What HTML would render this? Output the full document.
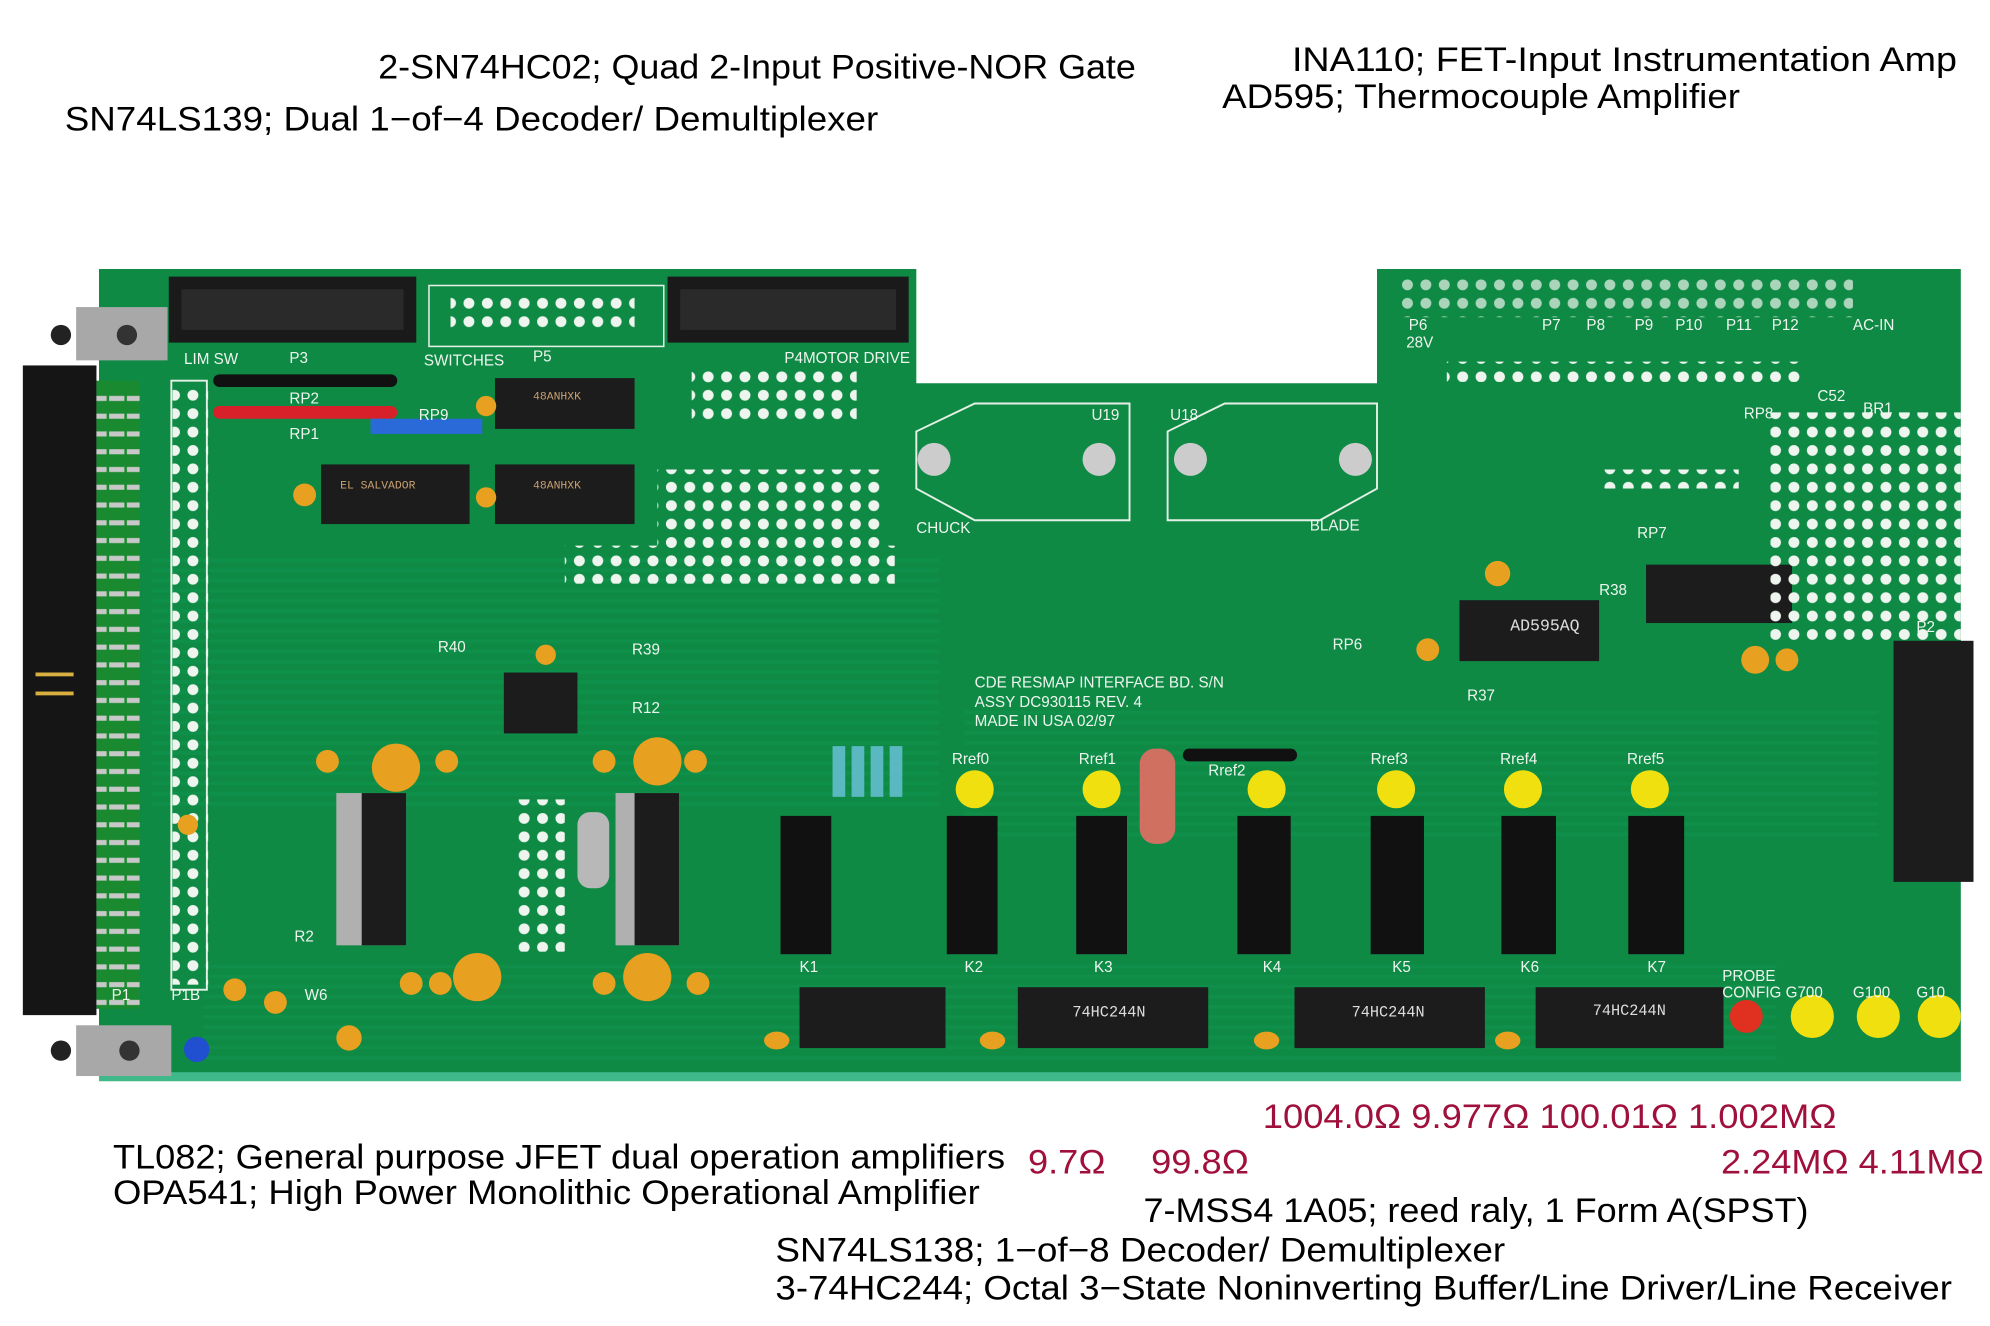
<!DOCTYPE html>
<html><head><meta charset="utf-8"><style>
html,body{margin:0;padding:0;background:#fff;}
svg{display:block;}
</style></head><body>
<svg width="1990" height="1326" viewBox="0 0 1568 1045" preserveAspectRatio="none" xmlns="http://www.w3.org/2000/svg">
<defs>
<pattern id="holes" width="14.5" height="14.5" patternUnits="userSpaceOnUse"><circle cx="7" cy="7" r="4.3" fill="#eef5ee"/></pattern>
<pattern id="pins" width="14" height="14" patternUnits="userSpaceOnUse"><rect x="2" y="4" width="22" height="4" fill="#c8c8c8"/></pattern>
<pattern id="trace" width="8" height="8" patternUnits="userSpaceOnUse"><rect width="8" height="3" fill="#13a058" opacity=".55"/></pattern>
</defs>
<rect width="1568" height="1045" fill="#fff"/>
<!-- board -->
<polygon points="78,212 722,212 722,302 1085,302 1085,212 1545,212 1545,852 78,852" fill="#0e8a45"/>
<rect x="120" y="440" width="620" height="200" fill="url(#trace)" opacity=".5"/>
<rect x="760" y="560" width="720" height="100" fill="url(#trace)" opacity=".4"/>
<rect x="160" y="760" width="1240" height="80" fill="url(#trace)" opacity=".4"/>
<rect x="78" y="845" width="1467" height="7" fill="#3fb88a"/>
<!-- left connector -->
<rect x="18" y="288" width="58" height="512" fill="#151515"/>
<rect x="76" y="300" width="34" height="495" fill="#1a8a30"/>
<rect x="76" y="306" width="34" height="490" fill="url(#pins)"/>
<rect x="28" y="530" width="30" height="3" fill="#d8b040"/><rect x="28" y="545" width="30" height="3" fill="#d8b040"/>
<rect x="135" y="300" width="28" height="480" fill="none" stroke="#e6f0e6" stroke-width="1.5"/>
<rect x="136" y="306" width="28" height="470" fill="url(#holes)"/>
<!-- brackets -->
<rect x="60" y="242" width="72" height="42" fill="#a8a8a8"/><circle cx="48" cy="264" r="8" fill="#222"/><circle cx="100" cy="264" r="8" fill="#333"/>
<rect x="60" y="808" width="75" height="40" fill="#a8a8a8"/><circle cx="48" cy="828" r="8" fill="#222"/><circle cx="102" cy="828" r="8" fill="#333"/>
<!-- top headers -->
<rect x="133" y="218" width="195" height="52" fill="#1a1a1a"/><rect x="143" y="228" width="175" height="32" fill="#2a2a2a"/>
<rect x="526" y="218" width="190" height="52" fill="#1a1a1a"/><rect x="536" y="228" width="170" height="32" fill="#2a2a2a"/>
<rect x="338" y="225" width="185" height="48" fill="none" stroke="#e6f0e6" stroke-width="1.2"/>
<rect x="355" y="232" width="145" height="29" fill="url(#holes)"/>
<!-- resistor packs -->
<rect x="168" y="295" width="145" height="10" rx="5" fill="#111"/>
<rect x="168" y="320" width="145" height="10" rx="5" fill="#d8202a"/>
<rect x="292" y="330" width="88" height="12" fill="#2a6ad8"/>
<!-- chips -->
<g fill="#1c1c1c">
<rect x="390" y="298" width="110" height="40"/><rect x="253" y="366" width="117" height="47"/><rect x="390" y="366" width="110" height="47"/>
<rect x="397" y="530" width="58" height="48"/><rect x="1150" y="473" width="110" height="48"/><rect x="1297" y="445" width="115" height="46"/>
<rect x="630" y="778" width="115" height="48"/><rect x="802" y="778" width="150" height="48"/><rect x="1020" y="778" width="150" height="48"/><rect x="1210" y="778" width="148" height="48"/>
<rect x="1492" y="505" width="63" height="190"/>
</g>
<!-- dot grids -->
<rect x="518" y="370" width="180" height="88" fill="url(#holes)"/>
<rect x="445" y="430" width="260" height="30" fill="url(#holes)"/>
<rect x="545" y="292" width="130" height="40" fill="url(#holes)"/>
<rect x="1395" y="325" width="150" height="180" fill="url(#holes)"/>
<rect x="1260" y="370" width="110" height="15" fill="url(#holes)"/>
<rect x="1100" y="220" width="360" height="30" fill="url(#holes)" opacity=".7"/>
<rect x="1140" y="285" width="280" height="16" fill="url(#holes)"/>
<rect x="405" y="630" width="40" height="120" fill="url(#holes)"/>
<!-- heatsink outlines U19/U18 -->
<polygon points="722,340 768,318 890,318 890,410 768,410 722,385" fill="none" stroke="#e6f0e6" stroke-width="1.5"/>
<polygon points="920,340 965,318 1085,318 1085,385 1040,410 920,410" fill="none" stroke="#e6f0e6" stroke-width="1.5"/>
<circle cx="736" cy="362" r="13" fill="#ccc"/><circle cx="866" cy="362" r="13" fill="#ccc"/><circle cx="938" cy="362" r="13" fill="#ccc"/><circle cx="1068" cy="362" r="13" fill="#ccc"/>
<!-- OPA541 -->
<rect x="265" y="625" width="55" height="120" fill="#b0b0b0"/><rect x="285" y="625" width="35" height="120" fill="#1c1c1c"/>
<rect x="485" y="625" width="50" height="120" fill="#b0b0b0"/><rect x="500" y="625" width="35" height="120" fill="#1c1c1c"/>
<rect x="455" y="640" width="25" height="60" rx="10" fill="#b8b8b8"/>
<!-- relays -->
<g fill="#111">
<rect x="615" y="643" width="40" height="109"/><rect x="746" y="643" width="40" height="109"/><rect x="848" y="643" width="40" height="109"/>
<rect x="975" y="643" width="42" height="109"/><rect x="1080" y="643" width="42" height="109"/><rect x="1183" y="643" width="43" height="109"/><rect x="1283" y="643" width="44" height="109"/>
</g>
<rect x="898" y="590" width="28" height="75" rx="12" fill="#d07060"/>
<rect x="932" y="590" width="90" height="10" rx="5" fill="#111"/>
<g fill="#5ab8c0"><rect x="656" y="588" width="10" height="40"/><rect x="671" y="588" width="10" height="40"/><rect x="686" y="588" width="10" height="40"/><rect x="701" y="588" width="10" height="40"/></g>
<!-- LEDs -->
<g fill="#f0e010">
<circle cx="768" cy="622" r="15"/><circle cx="868" cy="622" r="15"/><circle cx="998" cy="622" r="15"/><circle cx="1100" cy="622" r="15"/><circle cx="1200" cy="622" r="15"/><circle cx="1300" cy="622" r="15"/>
<circle cx="1428" cy="801" r="17"/><circle cx="1480" cy="801" r="17"/><circle cx="1528" cy="801" r="17"/>
</g>
<circle cx="1376" cy="801" r="13" fill="#e03020"/>
<circle cx="155" cy="827" r="10" fill="#2050d0"/>
<!-- capacitors -->
<g fill="#e8a020">
<circle cx="312" cy="605" r="19"/><circle cx="518" cy="600" r="19"/><circle cx="376" cy="770" r="19"/><circle cx="510" cy="770" r="19"/>
<circle cx="258" cy="600" r="9"/><circle cx="352" cy="600" r="9"/><circle cx="476" cy="600" r="9"/><circle cx="548" cy="600" r="9"/>
<circle cx="324" cy="775" r="9"/><circle cx="347" cy="775" r="9"/><circle cx="476" cy="775" r="9"/><circle cx="550" cy="775" r="9"/>
<circle cx="185" cy="780" r="9"/><circle cx="217" cy="790" r="9"/><circle cx="275" cy="818" r="10"/><circle cx="1180" cy="452" r="10"/>
<circle cx="1383" cy="520" r="11"/><circle cx="1408" cy="520" r="9"/><circle cx="1125" cy="512" r="9"/><circle cx="148" cy="650" r="8"/>
<circle cx="240" cy="390" r="9"/><circle cx="383" cy="320" r="8"/><circle cx="383" cy="392" r="8"/><circle cx="430" cy="516" r="8"/>
<ellipse cx="612" cy="820" rx="10" ry="7"/><ellipse cx="782" cy="820" rx="10" ry="7"/><ellipse cx="998" cy="820" rx="10" ry="7"/><ellipse cx="1188" cy="820" rx="10" ry="7"/>
</g>
<!-- silk text -->
<g fill="#eef5ee" font-family="Liberation Sans, sans-serif" font-size="12">
<text x="145" y="287">LIM SW</text><text x="228" y="286">P3</text><text x="334" y="288">SWITCHES</text><text x="420" y="285">P5</text><text x="618" y="286">P4MOTOR DRIVE</text>
<text x="228" y="318">RP2</text><text x="228" y="346">RP1</text><text x="330" y="331">RP9</text>
<text x="860" y="331">U19</text><text x="922" y="331">U18</text><text x="722" y="420">CHUCK</text><text x="1032" y="418">BLADE</text>
<text x="768" y="542">CDE RESMAP INTERFACE BD. S/N</text><text x="768" y="557">ASSY DC930115 REV. 4</text><text x="768" y="572">MADE IN USA 02/97</text>
<text x="750" y="602">Rref0</text><text x="850" y="602">Rref1</text><text x="952" y="611">Rref2</text><text x="1080" y="602">Rref3</text><text x="1182" y="602">Rref4</text><text x="1282" y="602">Rref5</text>
<text x="630" y="766">K1</text><text x="760" y="766">K2</text><text x="862" y="766">K3</text><text x="995" y="766">K4</text><text x="1097" y="766">K5</text><text x="1198" y="766">K6</text><text x="1298" y="766">K7</text>
<text x="1357" y="773">PROBE</text><text x="1357" y="786">CONFIG G700</text><text x="1460" y="786">G100</text><text x="1510" y="786">G10</text>
<text x="1110" y="260">P6</text><text x="1108" y="274">28V</text><text x="1215" y="260">P7</text><text x="1250" y="260">P8</text><text x="1288" y="260">P9</text><text x="1320" y="260">P10</text><text x="1360" y="260">P11</text><text x="1396" y="260">P12</text>
<text x="1460" y="260">AC-IN</text><text x="1432" y="316">C52</text><text x="1468" y="326">BR1</text><text x="1374" y="330">RP8</text><text x="1290" y="424">RP7</text><text x="1510" y="498">P2</text>
<text x="1050" y="512">RP6</text><text x="1156" y="552">R37</text><text x="1260" y="469">R38</text><text x="345" y="514">R40</text><text x="498" y="516">R39</text><text x="498" y="562">R12</text>
<text x="88" y="788">P1</text><text x="135" y="788">P1B</text><text x="232" y="742">R2</text><text x="240" y="788">W6</text>
</g>
<g fill="#c8a070" font-family="Liberation Mono, monospace" font-size="9">
<text x="420" y="315">48ANHXK</text><text x="420" y="385">48ANHXK</text><text x="268" y="385">EL SALVADOR</text>
<text x="1190" y="497" fill="#ddd" font-size="13">AD595AQ</text>
<text x="845" y="801" fill="#ddd" font-size="12">74HC244N</text><text x="1065" y="801" fill="#ddd" font-size="12">74HC244N</text><text x="1255" y="800" fill="#ddd" font-size="12">74HC244N</text>
</g>
<!-- annotations -->
<g font-family="Liberation Sans, sans-serif" font-size="27" fill="#000">
<text x="298" y="62" textLength="597" lengthAdjust="spacingAndGlyphs">2-SN74HC02; Quad 2-Input Positive-NOR Gate</text>
<text x="51" y="103" textLength="641" lengthAdjust="spacingAndGlyphs">SN74LS139; Dual 1−of−4 Decoder/ Demultiplexer</text>
<text x="1018" y="56" textLength="524" lengthAdjust="spacingAndGlyphs">INA110; FET-Input Instrumentation Amp</text>
<text x="963" y="85" textLength="408" lengthAdjust="spacingAndGlyphs">AD595; Thermocouple Amplifier</text>
<text x="89" y="921" textLength="703" lengthAdjust="spacingAndGlyphs">TL082; General purpose JFET dual operation amplifiers</text>
<text x="89" y="949" textLength="683" lengthAdjust="spacingAndGlyphs">OPA541; High Power Monolithic Operational Amplifier</text>
<text x="901" y="963" textLength="524" lengthAdjust="spacingAndGlyphs">7-MSS4 1A05; reed raly, 1 Form A(SPST)</text>
<text x="611" y="994" textLength="575" lengthAdjust="spacingAndGlyphs">SN74LS138; 1−of−8 Decoder/ Demultiplexer</text>
<text x="611" y="1024" textLength="927" lengthAdjust="spacingAndGlyphs">3-74HC244; Octal 3−State Noninverting Buffer/Line Driver/Line Receiver</text>
</g>
<g font-family="Liberation Sans, sans-serif" font-size="27" fill="#a0103c">
<text x="995" y="889" textLength="452" lengthAdjust="spacingAndGlyphs">1004.0Ω 9.977Ω 100.01Ω 1.002MΩ</text>
<text x="810" y="925" textLength="61" lengthAdjust="spacingAndGlyphs">9.7Ω</text>
<text x="907" y="925" textLength="77" lengthAdjust="spacingAndGlyphs">99.8Ω</text>
<text x="1356" y="925" textLength="207" lengthAdjust="spacingAndGlyphs">2.24MΩ 4.11MΩ</text>
</g>
</svg>
</body></html>
